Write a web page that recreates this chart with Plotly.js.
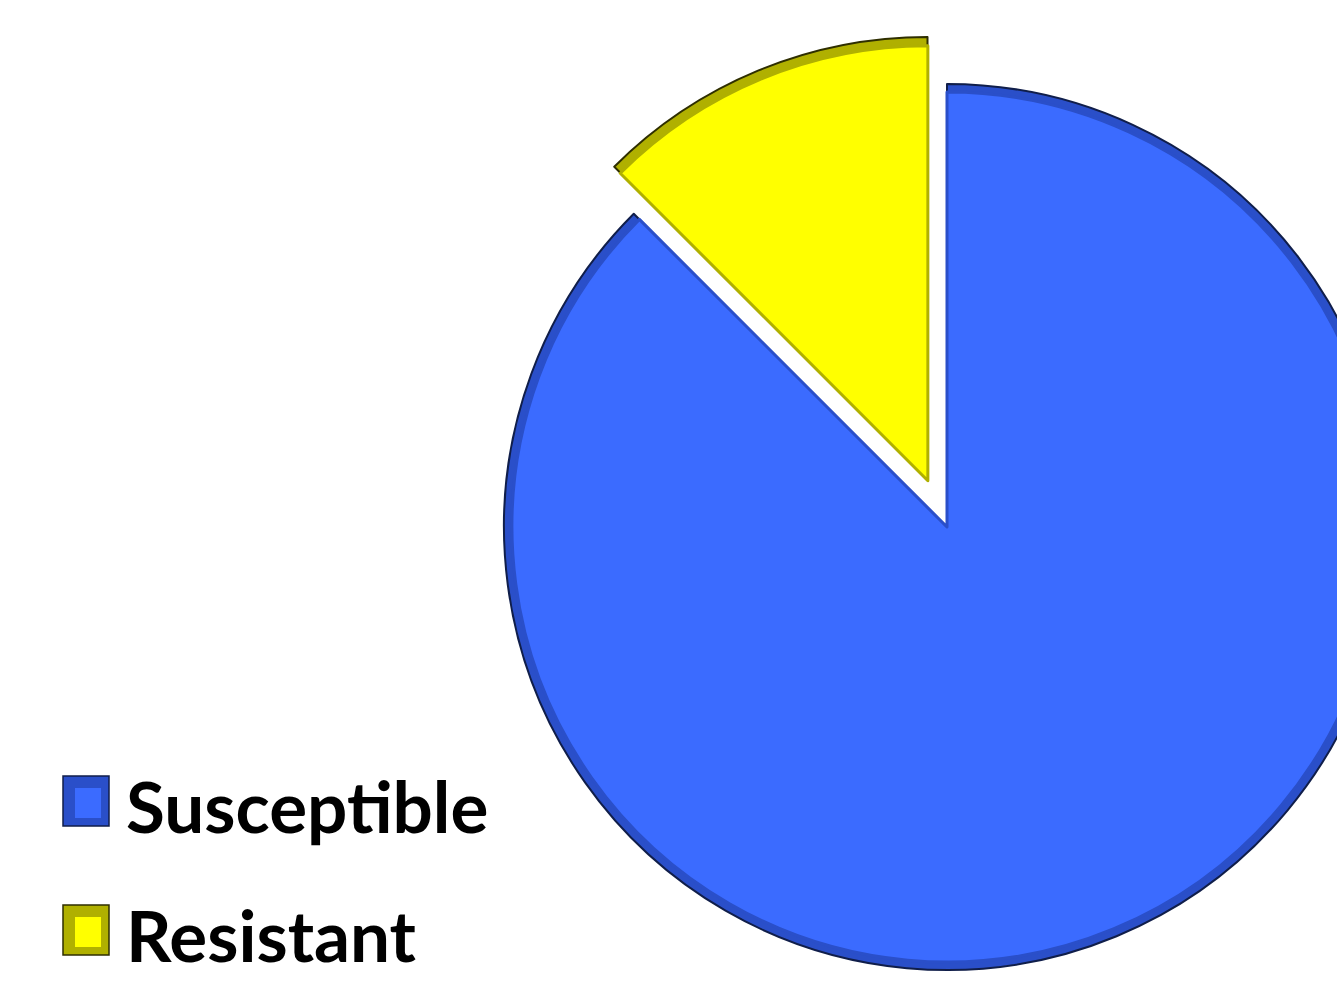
<!DOCTYPE html>
<html>
<head>
<meta charset="utf-8">
<script src="https://cdn.plot.ly/plotly-3.0.1.min.js"></script>
<style>
  html, body { margin: 0; padding: 0; background: #ffffff; overflow: hidden; width: 1337px; height: 982px; }
  #chart { position: absolute; left: 0; top: -60px; }
</style>
</head>
<body>
<div id="chart"></div>
<script>
// ---- data ----
var labels = ['Susceptible', 'Resistant'];
var values = [87.5, 12.5];
var pulls = [0, 0.115];
var fillColors = ['#3B6BFF', '#FFFF00'];
var ringColors = ['#2A4FC9', '#B0B000'];
var edgeColors = ['#101E4A', '#2E2E00'];

// ---- layout geometry ----
var W = 1500, H = 1100, OFFSET = 60;
var CX = 947, CY = 527;            // pie centre in page pixels
var R_OUT = 443, R_IN = 435;
var maxPull = Math.max.apply(null, pulls);

function domainFor(r) {
  var size = r * 2 * (1 + maxPull);
  var cyDiv = CY + OFFSET;
  return {
    x: [(CX - size / 2) / W, (CX + size / 2) / W],
    y: [1 - (cyDiv + size / 2) / H, 1 - (cyDiv - size / 2) / H]
  };
}

var outer = {
  type: 'pie', labels: labels, values: values, pull: pulls,
  sort: false, direction: 'clockwise', rotation: 0,
  textinfo: 'none', hoverinfo: 'label+percent', showlegend: false,
  domain: domainFor(R_OUT),
  marker: { colors: ringColors, line: { color: edgeColors, width: 2 } }
};
var inner = {
  type: 'pie', labels: labels, values: values, pull: pulls,
  sort: false, direction: 'clockwise', rotation: 0,
  textinfo: 'none', hoverinfo: 'skip', showlegend: false,
  domain: domainFor(R_IN),
  marker: { colors: fillColors, line: { color: ringColors, width: 3 } }
};

// ---- custom legend (big squares + bold labels) ----
var legendTop = [776, 905];   // page px of each legend square top
var sq = 46, sqH = 50, sqX = 63, textX = 124;
var shapes = [], annotations = [];
function px(x) { return x / W; }
function py(y) { return 1 - (y + OFFSET) / H; }
labels.forEach(function (lab, i) {
  var t = legendTop[i];
  shapes.push({ type: 'rect', xref: 'paper', yref: 'paper',
    x0: px(sqX), x1: px(sqX + sq), y0: py(t + sqH), y1: py(t),
    fillcolor: ringColors[i], line: { color: edgeColors[i], width: 1.5 } });
  shapes.push({ type: 'rect', xref: 'paper', yref: 'paper',
    x0: px(sqX + 12), x1: px(sqX + sq - 8), y0: py(t + sqH - 8), y1: py(t + 12),
    fillcolor: fillColors[i], line: { width: 0 } });
  annotations.push({ xref: 'paper', yref: 'paper', x: px(textX), y: py(t + 29),
    xanchor: 'left', yanchor: 'middle', showarrow: false, text: '<b>' + lab + '</b>',
    font: { family: 'Lato, "Open Sans", sans-serif', size: 71, color: '#000000' } });
});

var layout = {
  width: W, height: H,
  margin: { l: 0, r: 0, t: 0, b: 0 },
  paper_bgcolor: '#ffffff', plot_bgcolor: '#ffffff',
  showlegend: false,
  shapes: shapes, annotations: annotations
};

Plotly.newPlot('chart', [outer, inner], layout, { displayModeBar: false, staticPlot: true });
</script>
</body>
</html>
